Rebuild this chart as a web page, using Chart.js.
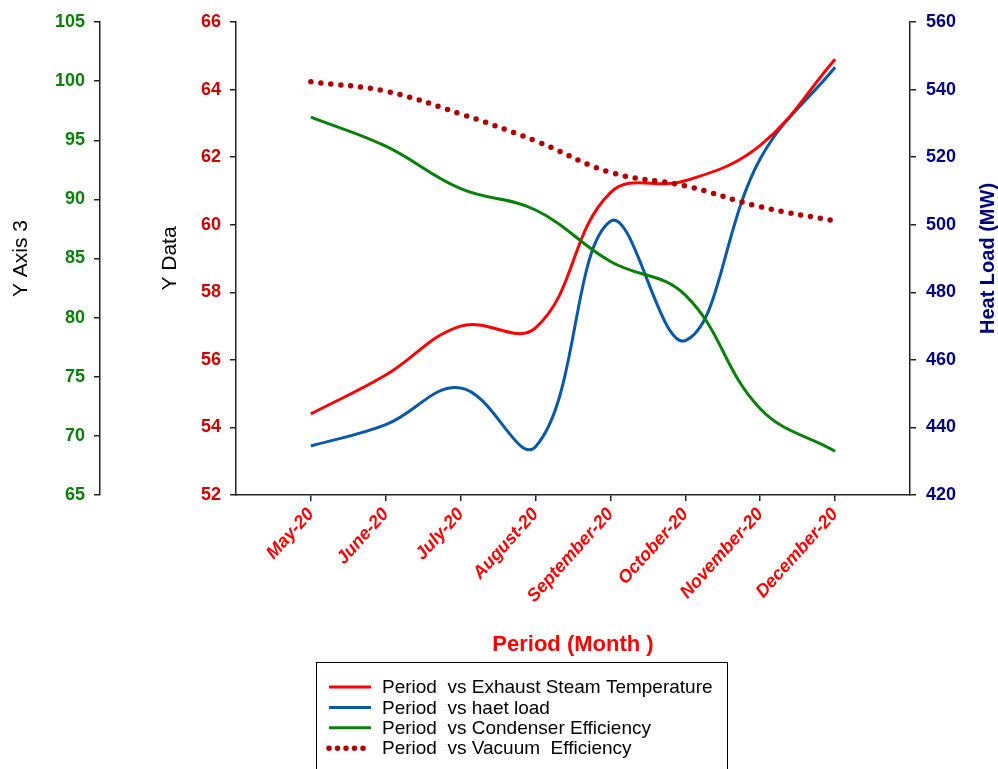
<!DOCTYPE html>
<html>
<head>
<meta charset="utf-8">
<script src="https://cdn.jsdelivr.net/npm/chart.js@4"></script>
<style>
html,body{margin:0;padding:0;background:#fff}
#wrap{width:998px;height:769px}
</style>
</head>
<body>
<div id="wrap"><canvas id="c" width="998" height="769"></canvas></div>
<script>
const months=['May-20','June-20','July-20','August-20','September-20','October-20','November-20','December-20'];
const exhaustTemp=[54.4,55.55,57.0,56.95,60.95,61.3,62.35,64.9];
const heatLoad=[434.5,440.8,451.7,434.3,501.0,465.7,519.5,546.6];
const condenserEff=[96.95,94.5,90.9,89.1,84.75,81.9,72.3,68.7];
const vacuumEff=[64.23,63.95,63.28,62.48,61.55,61.15,60.53,60.11];

const FONT='"Liberation Sans", Arial, sans-serif';
const pts=v=>v.map((y,x)=>({x,y}));

// legend box + right axis title (reads bottom to top like the original)
const boxLegend={
 id:'boxLegend',
 afterDraw(ch){
  const c=ch.ctx;
  c.save();
  c.strokeStyle='#000';c.lineWidth=1;c.setLineDash([]);
  c.strokeRect(316.5,662.5,411,120);
  c.font='19px '+FONT;c.textBaseline='middle';c.fillStyle='#000';
  ch.data.datasets.forEach((d,i)=>{
   const y=687+i*20.4;
   c.beginPath();
   c.strokeStyle=d.borderColor;c.lineWidth=d.borderWidth;
   c.setLineDash(d.borderDash?[0,8.5]:[]);
   c.lineCap=d.borderCapStyle||'butt';
   c.moveTo(329,y);c.lineTo(371,y);c.stroke();
   c.setLineDash([]);
   c.fillText(d.label,382,y+1);
  });
  const a=ch.chartArea;
  c.translate(988,(a.top+a.bottom)/2);
  c.rotate(-Math.PI/2);
  c.font='bold 20px '+FONT;c.fillStyle='#000080';c.textAlign='center';
  c.fillText('Heat Load (MW)',0,0);
  c.restore();
 }
};

const axisLine={color:'#222',width:1.5};
const tickGrid={drawOnChartArea:false,drawTicks:true,tickLength:6,color:'#222',lineWidth:1.5};

new Chart(document.getElementById('c'),{
 type:'line',
 data:{datasets:[
  {label:'Period  vs Exhaust Steam Temperature',data:pts(exhaustTemp),borderColor:'#ff0000',borderWidth:3,yAxisID:'yData',order:2},
  {label:'Period  vs haet load',data:pts(heatLoad),borderColor:'#0a58a8',borderWidth:3,yAxisID:'yHeat',order:3},
  {label:'Period  vs Condenser Efficiency',data:pts(condenserEff),borderColor:'#0a800a',borderWidth:3,yAxisID:'y3',order:1},
  {label:'Period  vs Vacuum  Efficiency',data:pts(vacuumEff),borderColor:'#b00000',borderWidth:5.5,borderDash:[0,10],borderCapStyle:'round',yAxisID:'yData',order:0}
 ]},
 options:{
  responsive:false,animation:false,
  layout:{padding:{top:22,right:0,bottom:104,left:0}},
  elements:{point:{radius:0},line:{tension:0.4,fill:false}},
  plugins:{legend:{display:false},tooltip:{enabled:false}},
  scales:{
   x:{type:'linear',position:'bottom',min:-1,max:8,
    afterBuildTicks:s=>{s.ticks=s.ticks.filter(t=>t.value>=0&&t.value<=7)},
    afterFit:s=>{s.height=170},
    ticks:{stepSize:1,autoSkip:false,minRotation:48,maxRotation:48,padding:3,color:'#ff0000',
     font:{family:FONT,size:18,weight:'bold',style:'italic'},callback:v=>months[v]??''},
    grid:tickGrid,border:axisLine,
    title:{display:true,text:'Period (Month )',color:'#ff0000',font:{family:FONT,size:22,weight:'bold'},padding:{top:0,bottom:7}}},
   y3:{position:'left',weight:1,min:65,max:105,
    afterFit:s=>{s.width=100},
    ticks:{stepSize:5,padding:9,color:'#0a800a',font:{family:FONT,size:18,weight:'bold'}},
    grid:tickGrid,border:axisLine,
    title:{display:true,text:'Y Axis 3',color:'#000',font:{family:FONT,size:21},padding:{top:9,bottom:0}}},
   yData:{position:'left',weight:0,min:52,max:66,
    afterFit:s=>{s.width=136},
    ticks:{stepSize:2,padding:9,color:'#cc0000',font:{family:FONT,size:18,weight:'bold'}},
    grid:tickGrid,border:axisLine,
    title:{display:true,text:'Y Data',color:'#000',font:{family:FONT,size:21},padding:{top:58,bottom:0}}},
   yHeat:{position:'right',min:420,max:560,
    afterFit:s=>{s.width=88},
    ticks:{stepSize:20,padding:10,color:'#000080',font:{family:FONT,size:18,weight:'bold'}},
    grid:tickGrid,border:axisLine}
  }
 },
 plugins:[boxLegend]
});
</script>
</body>
</html>
